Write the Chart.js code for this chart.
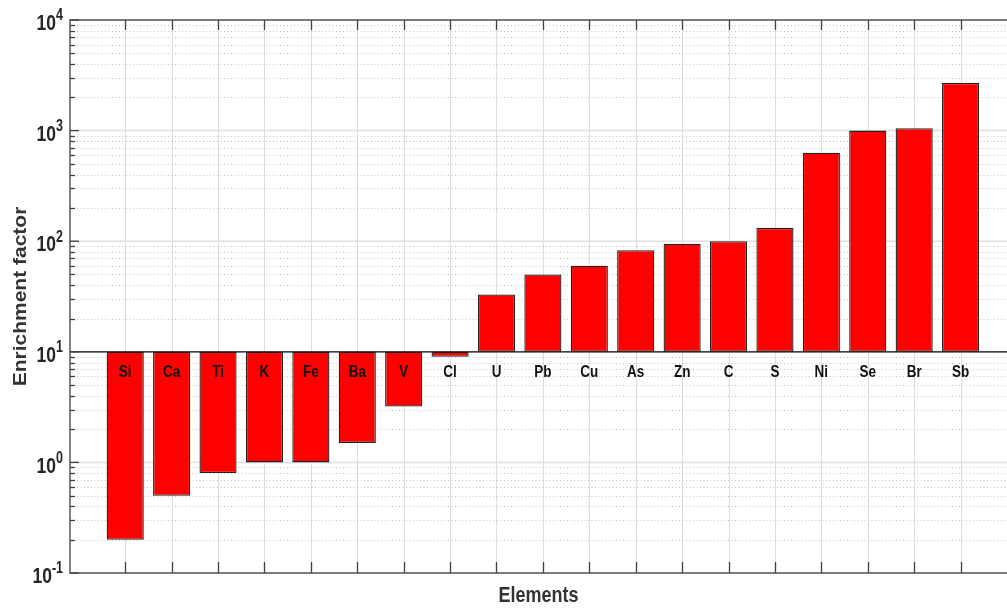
<!DOCTYPE html>
<html>
<head>
<meta charset="utf-8">
<script src="https://cdn.jsdelivr.net/npm/chart.js@4"></script>
<style>
  html, body { margin: 0; padding: 0; background: #fff; }
  #wrap { width: 1007px; height: 612px; }
</style>
</head>
<body>
<div id="wrap"><canvas id="efChart" width="1007" height="612"></canvas></div>
<script>
const elements = ["Si", "Ca", "Ti", "K", "Fe", "Ba", "V", "Cl", "U", "Pb", "Cu", "As", "Zn", "C", "S", "Ni", "Se", "Br", "Sb"];
const enrichment = [0.2, 0.5, 0.8, 1.0, 1.0, 1.5, 3.2, 9, 33, 50, 60, 83, 95, 100, 132, 630, 1000, 1050, 2700];
const baseline = 10;
const decades = [-1, 0, 1, 2, 3, 4];

const FONT = "'Liberation Sans', Arial, sans-serif";

// draw text stretched vertically (reference glyphs are taller than wide)
function stretchedText(ctx, text, x, y, size, sy, align, baselineMode, rotate) {
  ctx.save();
  ctx.translate(x, y);
  ctx.scale(1, sy);
  if (rotate) ctx.rotate(-Math.PI / 2);
  ctx.font = "bold " + size + "px " + FONT;
  ctx.textAlign = align;
  ctx.textBaseline = baselineMode;
  ctx.fillText(text, 0, 0);
  ctx.restore();
}

const matlabAxes = {
  id: "matlabAxes",
  beforeDatasetsDraw(chart) {
    const { ctx, chartArea: a, scales: { x, y } } = chart;
    ctx.save();
    // vertical grid at each element
    ctx.strokeStyle = "#dddddd";
    ctx.lineWidth = 1;
    elements.forEach((_, i) => {
      const px = Math.round(x.getPixelForValue(i)) + 0.5;
      ctx.beginPath();
      ctx.moveTo(px, a.top);
      ctx.lineTo(px, a.bottom);
      ctx.stroke();
    });
    // minor dotted grid
    ctx.strokeStyle = "#c4c4c4";
    ctx.setLineDash([1, 2.5]);
    decades.slice(0, -1).forEach(d => {
      for (let m = 2; m <= 9; m++) {
        const py = Math.round(y.getPixelForValue(m * Math.pow(10, d))) + 0.5;
        ctx.beginPath();
        ctx.moveTo(a.left, py);
        ctx.lineTo(a.right, py);
        ctx.stroke();
      }
    });
    ctx.setLineDash([]);
    // major grid
    ctx.strokeStyle = "#e0e0e0";
    ctx.lineWidth = 1.5;
    decades.forEach(d => {
      const py = y.getPixelForValue(Math.pow(10, d));
      ctx.beginPath();
      ctx.moveTo(a.left, py);
      ctx.lineTo(a.right, py);
      ctx.stroke();
    });
    ctx.restore();
  },
  afterDatasetsDraw(chart) {
    const { ctx, chartArea: a, scales: { x, y } } = chart;
    ctx.save();
    // black line at the baseline
    const by = y.getPixelForValue(baseline);
    ctx.strokeStyle = "#111";
    ctx.lineWidth = 1.3;
    ctx.beginPath();
    ctx.moveTo(a.left, by);
    ctx.lineTo(a.right, by);
    ctx.stroke();

    // axes box (left, top, bottom)
    ctx.strokeStyle = "#5a5a5a";
    ctx.lineWidth = 1.5;
    ctx.beginPath();
    ctx.moveTo(a.right, a.top);
    ctx.lineTo(a.left, a.top);
    ctx.lineTo(a.left, a.bottom);
    ctx.lineTo(a.right, a.bottom);
    ctx.stroke();

    // inward ticks
    ctx.strokeStyle = "#404040";
    ctx.lineWidth = 1.3;
    elements.forEach((_, i) => {
      const px = Math.round(x.getPixelForValue(i)) + 0.5;
      ctx.beginPath();
      ctx.moveTo(px, a.bottom);
      ctx.lineTo(px, a.bottom - 11);
      ctx.moveTo(px, a.top);
      ctx.lineTo(px, a.top + 10);
      ctx.stroke();
    });
    decades.forEach((d, k) => {
      const py = y.getPixelForValue(Math.pow(10, d));
      ctx.beginPath();
      ctx.moveTo(a.left, py);
      ctx.lineTo(a.left + 9, py);
      ctx.stroke();
      if (k < decades.length - 1) {
        for (let m = 2; m <= 9; m++) {
          const my = Math.round(y.getPixelForValue(m * Math.pow(10, d))) + 0.5;
          ctx.beginPath();
          ctx.moveTo(a.left, my);
          ctx.lineTo(a.left + 5, my);
          ctx.stroke();
        }
      }
    });

    // y tick labels 10^n
    ctx.fillStyle = "#262626";
    decades.forEach(d => {
      const py = y.getPixelForValue(Math.pow(10, d)) + 4;
      const sup = String(d);
      ctx.font = "bold 12.5px " + FONT;
      const supW = ctx.measureText(sup).width;
      const supX = a.left - 7 - supW;
      stretchedText(ctx, "10", supX, py, 17.5, 1.3, "right", "middle", false);
      stretchedText(ctx, sup, supX, py - 8, 12.5, 1.25, "left", "middle", false);
    });

    // element names under the baseline
    ctx.fillStyle = "#111";
    elements.forEach((name, i) => {
      stretchedText(ctx, name, x.getPixelForValue(i), by + 21, 13.5, 1.2, "center", "middle", false);
    });

    // axis titles
    ctx.fillStyle = "#333";
    stretchedText(ctx, "Elements", (a.left + a.right) / 2, 596, 18, 1.2, "center", "middle", false);
    stretchedText(ctx, "Enrichment factor", 21, (a.top + a.bottom) / 2, 17.5, 1.2, "center", "middle", true);
    ctx.restore();
  }
};

new Chart(document.getElementById("efChart"), {
  type: "bar",
  data: {
    datasets: [{
      label: "Enrichment factor",
      data: elements.map((e, i) => ({ x: i, y: [baseline, enrichment[i]] })),
      backgroundColor: "#ff0000",
      borderColor: "#222222",
      borderWidth: 1.3,
      borderSkipped: false,
      categoryPercentage: 1.0,
      barPercentage: 0.8
    }]
  },
  options: {
    responsive: false,
    animation: false,
    layout: { padding: { left: 70, top: 20, right: 0, bottom: 39 } },
    plugins: {
      legend: { display: false },
      tooltip: { enabled: false }
    },
    scales: {
      x: {
        type: "linear",
        min: -1.19,
        max: 19.0,
        offset: false,
        grid: { display: false, offset: false },
        border: { display: false },
        ticks: { display: false },
        afterFit(scale) { scale.height = 0; }
      },
      y: {
        type: "logarithmic",
        min: 0.1,
        max: 10000,
        grid: { display: false },
        border: { display: false },
        ticks: { display: false },
        afterFit(scale) { scale.width = 0; }
      }
    }
  },
  plugins: [matlabAxes]
});
</script>
</body>
</html>
